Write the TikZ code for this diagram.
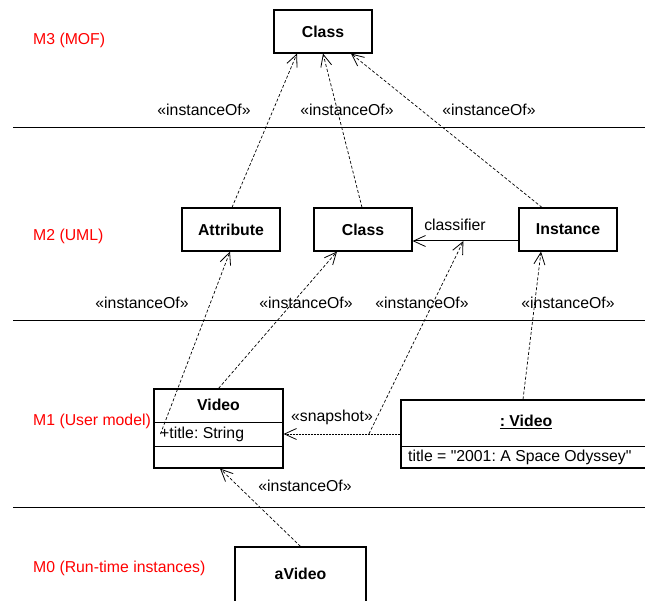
\documentclass[tikz,border=0pt]{standalone}
\usepackage{fontspec}
\setmainfont{Liberation Sans}[Ligatures=TeXOff]
\usetikzlibrary{arrows.meta,calc}
\newcommand\fsz{\fontsize{15.8}{18}\selectfont}
\frenchspacing
\begin{document}
\begin{tikzpicture}[x=1pt,y=-1pt,
  box/.style={draw, line width=1.1pt, minimum width=98pt, minimum height=43pt, inner sep=0pt, font=\fsz\bfseries},
  dep/.style={dash pattern=on 3pt off 2pt, line width=0.7pt, -{Straight Barb[length=12pt,width=11pt,line width=0.8pt]}},
  lbl/.style={font=\fsz, inner sep=0pt},
  lvl/.style={font=\fsz, text=red, anchor=west, inner sep=0pt},
  sep/.style={line width=1pt}]
\path[use as bounding box] (0,0) rectangle (645,601);
\clip (0,0) rectangle (645,601);

% level separators
\draw[sep] (13,128) -- (645,128);
\draw[sep] (13,321) -- (645,321);
\draw[sep] (13,507) -- (645,507);

% level labels
\node[lvl] (m3) at (33,40) {M3 (MOF)};
\node[lvl] (m2) at (33,236) {M2 (UML)};
\node[lvl] (m1) at (33,421) {M1 (User model)};
\node[lvl] (m0) at (33,568) {M0 (Run-time instances)};

% M3
\node[box] (classTop) at (323,31.5) {Class};

% M2
\node[box] (attr) at (231,229.5) {Attribute};
\node[box] (classM2) at (363,229.5) {Class};
\node[box] (inst) at (568,229.5) {Instance};

% M1 Video class
\node[draw, line width=1.1pt, minimum width=129pt, minimum height=79pt, inner sep=0pt] (video) at (218.5,428.5) {};
\draw[line width=1pt] (154,422) -- (283,422);
\draw[line width=1pt] (154,446) -- (283,446);
\node[font=\fsz\bfseries, inner sep=0pt] (videoName) at (218.5,405) {Video};
\node[lbl, anchor=west] (videoAttr) at (160,434) {+title: String};

% M1 object
\node[draw, line width=1.1pt, minimum width=250pt, minimum height=68pt, inner sep=0pt] (obj) at (526,434) {};
\draw[line width=1pt] (401,446) -- (651,446);
\node[font=\fsz\bfseries, inner sep=0pt] (objName) at (526,422) {\underline{: Video}};
\node[lbl, anchor=west] (objAttr) at (408,457) {title = "2001: A Space Odyssey"};

% M0
\node[draw, line width=1.1pt, minimum width=131pt, minimum height=60pt, inner sep=0pt, font=\fsz\bfseries] (aVideo) at (300.5,577) {};
\node[font=\fsz\bfseries, inner sep=0pt] (aVideoName) at (300.5,574) {aVideo};

% classifier association
\draw[line width=1pt, -{Straight Barb[length=12pt,width=11pt,line width=0.8pt]}]
  ([yshift=-11.5pt]inst.west) -- coordinate[pos=0.52] (clf) ([yshift=-11.5pt]classM2.east);
\node[lbl] (clfLbl) at (455,225) {classifier};

% snapshot
\draw[dash pattern=on 2pt off 1pt, line width=0.8pt, -{Straight Barb[length=12pt,width=11pt,line width=0.8pt]}]
  (obj.west) -- coordinate[pos=0.27] (snap) ([yshift=-5.5pt]video.east);
\node[lbl] (snapLbl) at (332,417) {«snapshot»};

% instanceOf dependencies
\draw[dep] ([xshift=1pt]attr.north) -- ([xshift=-26pt]classTop.south);
\draw[dep] ([xshift=-1pt]classM2.north) -- (classTop.south);
\draw[dep] ([xshift=-26pt]inst.north) -- ([xshift=28pt]classTop.south);
\draw[dep] ([xshift=7pt,yshift=-5.5pt]video.west) -- ([xshift=-1pt]attr.south);
\draw[dep] (video.north) -- ([xshift=-26pt]classM2.south);
\draw[dep] (snap) -- (clf);
\draw[dep] ([xshift=-3pt]obj.north) -- ([xshift=-27pt]inst.south);
\draw[dep] (aVideo.north) -- ([xshift=1.5pt]video.south);

% instanceOf labels
\node[lbl] (i1) at (204,110) {«instanceOf»};
\node[lbl] (i2) at (347,110) {«instanceOf»};
\node[lbl] (i3) at (489,110) {«instanceOf»};
\node[lbl] (i4) at (142,303) {«instanceOf»};
\node[lbl] (i5) at (306,303) {«instanceOf»};
\node[lbl] (i6) at (422,303) {«instanceOf»};
\node[lbl] (i7) at (568,303) {«instanceOf»};
\node[lbl] (i8) at (305,486) {«instanceOf»};
\end{tikzpicture}
\end{document}
